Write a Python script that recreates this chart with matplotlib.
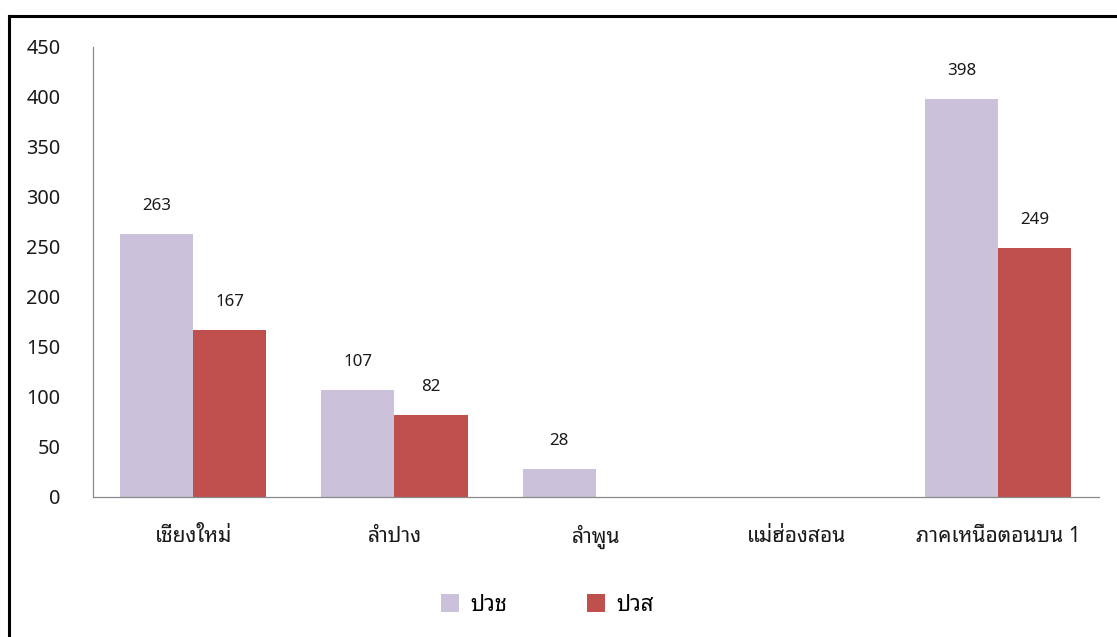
import matplotlib
matplotlib.use("Agg")
import matplotlib.pyplot as plt
import matplotlib.transforms as mtransforms
from matplotlib.lines import Line2D
import numpy as np

categories = ["เชียงใหม่", "ลำปาง", "ลำพูน", "แม่ฮ่องสอน", "ภาคเหนือตอนบน 1"]
series_names = ["ปวช", "ปวส"]
pvc = [263, 107, 28, 0, 398]
pvs = [167, 82, 0, 0, 249]
yticks = [0, 50, 100, 150, 200, 250, 300, 350, 400, 450]

colors = ["#CCC1DA", "#C0504D"]
THAI = ["Noto Sans Thai Looped", "Noto Sans Thai", "Noto Sans", "DejaVu Sans"]
NUM = ["Noto Sans", "DejaVu Sans"]

W, H = 1117, 637
fig = plt.figure(figsize=(W / 100, H / 100), dpi=100)
renderer = fig.canvas.get_renderer()

def fit(text, family, target_px):
    t = fig.text(0, 0, text, fontsize=10, family=family)
    w = t.get_window_extent(renderer).width
    t.remove()
    return 10 * target_px / w

thai_fs = fit(categories[4], THAI, 165)
leg_fs = fit(series_names[0], THAI, 37)

ax = fig.add_axes([92.5 / W, 140 / H, (1099 - 92.5) / W, 450 / H])
x = np.arange(len(categories))
bw = 0.363
b1 = ax.bar(x - bw / 2, pvc, bw, color=colors[0], label=series_names[0])
b2 = ax.bar(x + bw / 2, pvs, bw, color=colors[1], label=series_names[1])

ax.set_xlim(-0.5, len(categories) - 0.5)
ax.set_ylim(0, 450)
ax.set_yticks(yticks)
ax.set_yticklabels([str(v) for v in yticks], family=NUM, fontsize=14.3, color="#1a1a1a")
ax.tick_params(axis="y", length=0, pad=23)
ax.set_xticks([])
for s in ["top", "right"]:
    ax.spines[s].set_visible(False)
for s in ["left", "bottom"]:
    ax.spines[s].set_color("#898989")
    ax.spines[s].set_linewidth(0.9)

trans = mtransforms.offset_copy(ax.get_xaxis_transform(), fig=fig, x=0, y=-40, units="dots")
for xi, c in zip(x, categories):
    ax.text(xi, 0, c, transform=trans, ha="center", va="center",
            family=THAI, fontsize=thai_fs, color="#1a1a1a")

for bars, vals in ((b1, pvc), (b2, pvs)):
    for r, v in zip(bars, vals):
        if v:
            ax.annotate(str(v), (r.get_x() + r.get_width() / 2, v),
                        xytext=(0, 28), textcoords="offset pixels",
                        ha="center", va="center", family=NUM, fontsize=12.2, color="#1a1a1a")

leg = fig.legend(handles=[b1, b2], labels=series_names, loc="center",
                 bbox_to_anchor=(547.5 / W, (H - 605) / H), ncol=2, frameon=False,
                 prop={"family": THAI, "size": leg_fs},
                 handlelength=18 / (leg_fs * 100 / 72), handleheight=18 / (leg_fs * 100 / 72),
                 handletextpad=0.5, columnspacing=80 / (leg_fs * 100 / 72))

# outer frame (left and top edges visible)
fig.add_artist(Line2D([9 / W, 9 / W], [0, (H - 15.5) / H], transform=fig.transFigure,
                      color="black", linewidth=2.2, solid_capstyle="projecting"))
fig.add_artist(Line2D([9 / W, 1], [(H - 15.5) / H, (H - 15.5) / H], transform=fig.transFigure,
                      color="black", linewidth=2.2, solid_capstyle="projecting"))

fig.savefig("out.png", dpi=100)
